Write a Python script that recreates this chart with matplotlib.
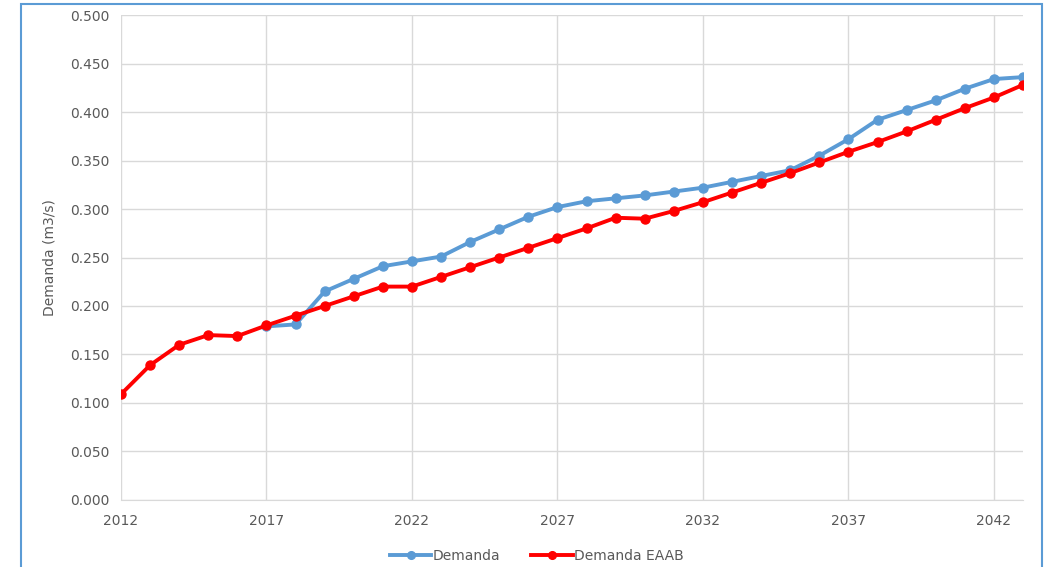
import matplotlib.pyplot as plt
from matplotlib.patches import Rectangle

plt.rcParams['font.family'] = ['DejaVu Sans']

# Years and demand series (m3/s)
years_eaab = list(range(2012, 2044))
demanda_eaab = [0.109, 0.139, 0.160, 0.170, 0.169, 0.180, 0.190, 0.200,
                0.210, 0.220, 0.220, 0.230, 0.240, 0.250, 0.260, 0.270,
                0.280, 0.291, 0.290, 0.298, 0.307, 0.317, 0.327, 0.337,
                0.348, 0.359, 0.369, 0.380, 0.392, 0.404, 0.415, 0.428]

years_dem = list(range(2017, 2044))
demanda = [0.179, 0.181, 0.215, 0.228, 0.241, 0.246, 0.251, 0.266,
           0.279, 0.292, 0.302, 0.308, 0.311, 0.314, 0.318, 0.322,
           0.328, 0.334, 0.340, 0.355, 0.372, 0.392, 0.402, 0.412,
           0.424, 0.434, 0.436]

x_ticks = [2012, 2017, 2022, 2027, 2032, 2037, 2042]
y_ticks = [i * 0.05 for i in range(11)]

text_color = '#595959'
grid_color = '#D9D9D9'

fig = plt.figure(figsize=(10.51, 5.67), dpi=100)
ax = fig.add_axes([0.1151, 0.1182, 0.8583, 0.8553])

ax.plot(years_dem, demanda, color='#5B9BD5', lw=2.8, marker='o', ms=6.5,
        label='Demanda', zorder=3)
ax.plot(years_eaab, demanda_eaab, color='#FF0000', lw=2.8, marker='o', ms=6.5,
        label='Demanda EAAB', zorder=4)

ax.set_xlim(2012, 2043)
ax.set_ylim(0, 0.5)
ax.set_xticks(x_ticks)
ax.set_yticks(y_ticks)
ax.set_yticklabels([f'{v:.3f}' for v in y_ticks])
ax.tick_params(length=0, labelsize=10, colors=text_color)
ax.tick_params(axis='x', pad=10)
ax.tick_params(axis='y', pad=8)
ax.grid(True, color=grid_color, lw=1)
ax.set_axisbelow(True)
for side in ['top', 'right', 'left']:
    ax.spines[side].set_visible(False)
ax.spines['bottom'].set_color(grid_color)

ax.set_ylabel('Demanda (m3/s)', fontsize=10, color=text_color, labelpad=10)

ax.legend(loc='upper center', bbox_to_anchor=(0.461, -0.075), ncol=2,
          frameon=False, fontsize=10, labelcolor=text_color, markerscale=0.85,
          handlelength=3, columnspacing=2.2, handletextpad=0.1)

# outer chart frame
fig.patches.append(Rectangle((21 / 1051, -0.05), 1021 / 1051, 1.0 - 4 / 567 + 0.05,
                             transform=fig.transFigure, fill=False,
                             edgecolor='#5B9BD5', lw=1.5))

fig.savefig('out.png', dpi=100)
